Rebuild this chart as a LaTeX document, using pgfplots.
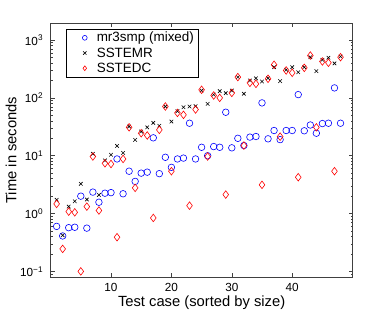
\documentclass[border=0pt]{standalone}
\usepackage{fontspec}
\setmainfont{Liberation Sans}
\usepackage{pgfplots}
\pgfplotsset{compat=1.18}
\newcommand{\tf}{\fontsize{11.8}{13.5}\selectfont}
\newcommand{\lf}{\fontsize{13.5}{15.5}\selectfont}
\begin{document}
\begin{tikzpicture}
\path[use as bounding box] (0,0) rectangle (390bp,312bp);
\begin{axis}[
  at={(50.6bp,35bp)}, anchor=south west,
  scale only axis, width=302bp, height=253.7bp,
  xmin=0, xmax=50, ymin=0.08, ymax=1950,
  ymode=log,
  xtick={10,20,30,40},
  ytick={0.1,1,10,100,1000},
  yticklabels={10\textsuperscript{−1},10\textsuperscript{0},10\textsuperscript{1},10\textsuperscript{2},10\textsuperscript{3}},
  minor ytick={0.09,0.2,0.3,0.4,0.5,0.6,0.7,0.8,0.9,2,3,4,5,6,7,8,9,20,30,40,50,60,70,80,90,200,300,400,500,600,700,800,900},
  tick align=inside,
  major tick length=4bp, minor tick length=2bp,
  axis line style={black!75, line width=0.6bp},
  every tick/.style={black!75, line width=0.5bp},
  tick label style={font=\tf},
  /pgf/number format/assume math mode=true,
  xticklabel style={yshift=-3bp},
  yticklabel style={xshift=-4bp},
  xlabel={Test case (sorted by size)},
  ylabel={Time in seconds},
  label style={font=\fontsize{14.8}{17}\selectfont},
  xlabel style={at={(axis description cs:0.5,-0.1025)}, anchor=center},
  ylabel style={at={(axis description cs:-0.131,0.5)}, anchor=center},
  legend style={at={(axis description cs:0.051,0.9775)}, anchor=north west, draw=black, inner xsep=2bp, inner ysep=1bp, row sep=0bp, font=\lf},
  legend cell align=left,
  legend image code/.code={\path (0bp,0bp) (26bp,0bp); \draw[mark size=2.4bp] plot coordinates {(16.3bp,0bp)};},
]
\addplot[only marks, mark=o, draw=blue, mark size=3.3bp, line width=0.6bp] coordinates {
(1,0.60)(2,0.41)(3,0.57)(4,0.58)(5,2.0)(6,0.56)(7,2.35)(8,1.57)(9,2.25)(10,2.3)
(11,8.8)(12,2.2)(13,5.4)(14,3.6)(15,5.0)(16,5.2)(17,20.4)(18,4.9)(19,9.4)(20,6.3)
(21,8.8)(22,9.1)(23,36.5)(24,8.8)(25,14.0)(26,10.0)(27,14.4)(28,14.0)(29,56.5)(30,13.7)
(31,20.0)(32,15.0)(33,21.0)(34,21.5)(35,82)(36,19.6)(37,27.3)(38,19.0)(39,27.3)(40,27.3)
(41,114)(42,27)(43,34)(44,24.5)(45,36)(46,36.5)(47,149)(48,36.5)};
\addlegendentry{\lf mr3smp (mixed)}
\addplot[only marks, mark=x, draw=black, mark size=2.5bp, line width=0.6bp] coordinates {
(1,1.73)(2,0.42)(3,1.32)(4,1.63)(5,3.27)(6,1.75)(7,10.8)(8,2.1)(9,8.3)(10,10.4)
(11,14.8)(12,11.2)(13,32)(14,18.8)(15,26.2)(16,31)(17,37)(18,33)(19,71)(20,39)
(21,59)(22,69)(23,71)(24,72)(25,134)(26,79)(27,114)(28,131)(29,121)(30,134)
(31,229)(32,118)(33,200)(34,218)(35,192)(36,219)(37,340)(38,195)(39,306)(40,340)
(41,278)(42,340)(43,505)(44,290)(45,455)(46,495)(47,395)(48,520)};
\addlegendentry{\lf SSTEMR\vphantom{()}}
\addplot[only marks, mark=diamond, draw=red, mark size=3.8bp, line width=0.6bp] coordinates {
(1,1.47)(2,0.245)(3,1.08)(4,1.05)(5,0.10)(6,1.32)(7,9.7)(8,1.13)(9,7.4)(10,7.2)
(11,0.39)(12,8.8)(13,31)(14,2.78)(15,24.5)(16,22.4)(17,0.84)(18,28)(19,71)(20,5.4)
(21,55)(22,51)(23,1.37)(24,63)(25,138)(26,9.7)(27,110)(28,100)(29,2.13)(30,122)
(31,229)(32,15)(33,182)(34,175)(35,3.14)(36,214)(37,374)(38,21.4)(39,298)(40,272)
(41,4.25)(42,331)(43,540)(44,31)(45,427)(46,405)(47,5.4)(48,505)};
\addlegendentry{\lf SSTEDC\vphantom{()}}
\end{axis}
\end{tikzpicture}
\end{document}
